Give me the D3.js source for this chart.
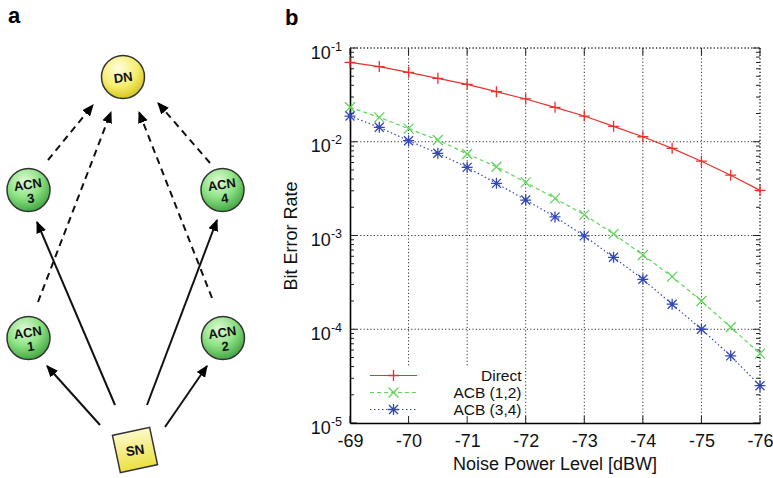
<!DOCTYPE html>
<html><head><meta charset="utf-8">
<script src="https://cdn.jsdelivr.net/npm/d3@7"></script>
<style>body{margin:0;background:#fff}svg{display:block}text{font-family:"Liberation Sans",Arial,Helvetica,sans-serif}</style>
</head><body>
<svg id="c" width="773" height="478"></svg>
<script>
// ---- data ----
const noiseLevels = [-69,-69.5,-70,-70.5,-71,-71.5,-72,-72.5,-73,-73.5,-74,-74.5,-75,-75.5,-76];
const berDirect = [0.0703,0.0633,0.055,0.0475,0.041,0.0342,0.0286,0.0233,0.0188,0.0146,0.0113,0.0085,0.0062,0.0044,0.00303];
const berACB12 = [0.0233,0.0182,0.0138,0.01045,0.0074,0.00542,0.00369,0.00249,0.00166,0.00104,0.00062,0.000364,0.0002,0.000105,0.000055];
const berACB34 = [0.0188,0.01425,0.01026,0.00753,0.00533,0.0036,0.00239,0.00158,0.00099,0.000585,0.000341,0.000185,0.0001,0.000052,0.000025];
const xTicks = [-69,-70,-71,-72,-73,-74,-75,-76];
const yDecades = [-5,-4,-3,-2,-1];
const seriesNames = ["Direct","ACB (1,2)","ACB (3,4)"];

// network diagram
const nodes = [
  {id:"DN", lines:["DN"], type:"dn"},
  {id:"ACN3", lines:["ACN","3"], type:"acn"},
  {id:"ACN4", lines:["ACN","4"], type:"acn"},
  {id:"ACN1", lines:["ACN","1"], type:"acn"},
  {id:"ACN2", lines:["ACN","2"], type:"acn"},
  {id:"SN", lines:["SN"], type:"sn"}
];
const links = [
  {from:"SN", to:"ACN1", style:"solid"},
  {from:"SN", to:"ACN3", style:"solid"},
  {from:"SN", to:"ACN4", style:"solid"},
  {from:"SN", to:"ACN2", style:"solid"},
  {from:"ACN3", to:"DN", style:"dashed"},
  {from:"ACN1", to:"DN", style:"dashed"},
  {from:"ACN2", to:"DN", style:"dashed"},
  {from:"ACN4", to:"DN", style:"dashed"}
];

const svg = d3.select("#c");
const defs = svg.append("defs");

// ---- panel a ----
const layout = {DN:[123,77], ACN3:[28.5,190], ACN4:[222.5,190], ACN1:[28.5,338], ACN2:[223,338], SN:[135,450]};
const arrowGeom = {
  "SN-ACN1":[[100,425],[47,366]],
  "SN-ACN3":[[115,405],[37,222]],
  "SN-ACN4":[[147,405],[217,220]],
  "SN-ACN2":[[165,427],[207,366]],
  "ACN3-DN":[[48,160],[93,105]],
  "ACN1-DN":[[38,302],[111,112]],
  "ACN2-DN":[[212,298],[139,112]],
  "ACN4-DN":[[210,163],[158,103]]
};
defs.append("marker").attr("id","ah").attr("viewBox","0 0 10 10").attr("refX",9).attr("refY",5)
  .attr("markerWidth",6).attr("markerHeight",6).attr("orient","auto").attr("markerUnits","strokeWidth")
  .append("path").attr("d","M0,0.8L10,5L0,9.2Z").attr("fill","#000");

const gg = defs.append("radialGradient").attr("id","gGreen").attr("cx","40%").attr("cy","30%").attr("r","70%");
gg.append("stop").attr("offset","0%").attr("stop-color","#e0fad8");
gg.append("stop").attr("offset","55%").attr("stop-color","#8ee284");
gg.append("stop").attr("offset","100%").attr("stop-color","#46a846");
const gy = defs.append("radialGradient").attr("id","gYellow").attr("cx","40%").attr("cy","30%").attr("r","70%");
gy.append("stop").attr("offset","0%").attr("stop-color","#fffde0");
gy.append("stop").attr("offset","60%").attr("stop-color","#f6ee70");
gy.append("stop").attr("offset","100%").attr("stop-color","#d8c820");
const gs = defs.append("linearGradient").attr("id","gSN").attr("x1","0").attr("y1","0").attr("x2","0").attr("y2","1");
gs.append("stop").attr("offset","0%").attr("stop-color","#fdf9c8");
gs.append("stop").attr("offset","100%").attr("stop-color","#ece040");

const ga = svg.append("g");
ga.append("text").attr("x",8).attr("y",23).attr("font-size",22).attr("font-weight","bold").text("a");

ga.selectAll("line.lk").data(links).join("line").attr("class","lk")
  .attr("x1",d=>arrowGeom[d.from+"-"+d.to][0][0]).attr("y1",d=>arrowGeom[d.from+"-"+d.to][0][1])
  .attr("x2",d=>arrowGeom[d.from+"-"+d.to][1][0]).attr("y2",d=>arrowGeom[d.from+"-"+d.to][1][1])
  .attr("stroke","#111").attr("stroke-width",2)
  .attr("stroke-dasharray",d=>d.style==="dashed"?"7,5":null)
  .attr("marker-end","url(#ah)");

const ng = ga.selectAll("g.node").data(nodes).join("g").attr("class","node")
  .attr("transform",d=>`translate(${layout[d.id][0]},${layout[d.id][1]})`);
ng.each(function(d){
  const g = d3.select(this);
  if(d.type==="sn"){
    g.append("rect").attr("x",-19).attr("y",-19).attr("width",38).attr("height",38)
      .attr("transform","rotate(-12)").attr("fill","url(#gSN)").attr("stroke","#333").attr("stroke-width",1.5);
    g.append("text").attr("transform","rotate(-8)").attr("text-anchor","middle").attr("y",5)
      .attr("font-size",13.5).attr("font-weight","bold").attr("fill","#111").text("SN");
  } else {
    g.append("circle").attr("r",21.5).attr("fill",d.type==="dn"?"url(#gYellow)":"url(#gGreen)")
      .attr("stroke","#333").attr("stroke-width",1.5);
    const t = g.append("text").attr("text-anchor","middle").attr("font-size",13).attr("font-weight","bold")
      .attr("fill","#111").attr("transform","rotate(-8)");
    if(d.lines.length===1){ t.attr("y",5).text(d.lines[0]); }
    else {
      t.append("tspan").attr("x",0).attr("y",-1).text(d.lines[0]);
      t.append("tspan").attr("x",1).attr("y",13).text(d.lines[1]);
    }
  }
});

// ---- panel b ----
const L=350, R=760, T=48, B=423;
const x = d3.scaleLinear().domain([-69,-76]).range([L,R]);
const y = d3.scaleLog().domain([1e-5,1e-1]).range([B,T]);
const gb = svg.append("g");
gb.append("text").attr("x",285).attr("y",25).attr("font-size",22).attr("font-weight","bold").text("b");

// grid
const gridStyle = s=>s.attr("stroke","#333").attr("stroke-width",1).attr("stroke-dasharray","1.2,2.2").attr("fill","none");
gb.selectAll("line.gx").data(xTicks.slice(1)).join("line").attr("class","gx")
  .attr("x1",d=>x(d)).attr("x2",d=>x(d)).attr("y1",T).attr("y2",B).call(gridStyle);
gb.selectAll("line.gy").data(yDecades.slice(1)).join("line").attr("class","gy")
  .attr("x1",L).attr("x2",R).attr("y1",d=>y(Math.pow(10,d))).attr("y2",d=>y(Math.pow(10,d))).call(gridStyle);

// legend background (covers grid)
gb.append("rect").attr("x",L+1).attr("y",367).attr("width",174).attr("height",B-367).attr("fill","#fff");

// ticks (inward), left solid, right mirrored
const minorVals=[];
yDecades.slice(0,-1).forEach(e=>{for(let m=2;m<=9;m++) minorVals.push(m*Math.pow(10,e));});
const tk = gb.append("g").attr("stroke","#222").attr("stroke-width",1);
tk.selectAll("line.ml").data(minorVals).join("line").attr("x1",L).attr("x2",L+4).attr("y1",d=>y(d)).attr("y2",d=>y(d));
tk.selectAll("line.mr").data(minorVals).join("line").attr("x1",R).attr("x2",R-4).attr("y1",d=>y(d)).attr("y2",d=>y(d));
tk.selectAll("line.Ml").data(yDecades).join("line").attr("x1",L).attr("x2",L+7).attr("y1",d=>y(Math.pow(10,d))).attr("y2",d=>y(Math.pow(10,d)));
tk.selectAll("line.Mr").data(yDecades).join("line").attr("x1",R).attr("x2",R-7).attr("y1",d=>y(Math.pow(10,d))).attr("y2",d=>y(Math.pow(10,d)));
tk.selectAll("line.xb").data(xTicks).join("line").attr("x1",d=>x(d)).attr("x2",d=>x(d)).attr("y1",B).attr("y2",B-7);
tk.selectAll("line.xt").data(xTicks).join("line").attr("x1",d=>x(d)).attr("x2",d=>x(d)).attr("y1",T).attr("y2",T+7);

// top/right borders dotted
gb.append("line").attr("x1",L).attr("x2",R).attr("y1",T).attr("y2",T).call(gridStyle);
gb.append("line").attr("x1",R).attr("x2",R).attr("y1",T).attr("y2",B).call(gridStyle);

// axes
const xAxis = d3.axisBottom(x).tickValues(xTicks).tickSize(0).tickPadding(11).tickFormat(d=>String(d));
const gxA = gb.append("g").attr("transform",`translate(0,${B})`).call(xAxis);
gxA.select(".domain").attr("stroke","#000").attr("stroke-width",1.6);
gxA.selectAll("text").attr("font-size",18).attr("fill","#111").attr("font-family","Liberation Sans, Arial, sans-serif");

const yAxis = d3.axisLeft(y).tickValues(yDecades.map(e=>Math.pow(10,e))).tickSize(0).tickFormat("");
const gyA = gb.append("g").attr("transform",`translate(${L},0)`).call(yAxis);
gyA.select(".domain").attr("stroke","#000").attr("stroke-width",1.6);
gyA.selectAll(".tick").each(function(d){
  const e = Math.round(Math.log10(d));
  const t = d3.select(this).append("text").attr("x",-8).attr("y",10).attr("text-anchor","end")
    .attr("fill","#111").attr("font-size",18);
  t.append("tspan").text("10");
  t.append("tspan").attr("dy",-8).attr("font-size",12.5).text(String(e));
});

// axis titles
gb.append("text").attr("x",(L+R)/2).attr("y",470).attr("text-anchor","middle").attr("font-size",18)
  .attr("fill","#111").text("Noise Power Level [dBW]");
gb.append("text").attr("transform","translate(297,236) rotate(-90)").attr("text-anchor","middle")
  .attr("font-size",18).attr("fill","#111").text("Bit Error Rate");

// series
const series = [
  {name:seriesNames[0], vals:berDirect, color:"#e8332c", dash:null, marker:"plus"},
  {name:seriesNames[1], vals:berACB12, color:"#62d45c", dash:"4,3", marker:"cross"},
  {name:seriesNames[2], vals:berACB34, color:"#3448b4", dash:"1.5,2.5", marker:"star"}
];
const line = d3.line().x(d=>x(d[0])).y(d=>y(d[1]));
const mk = {
  plus:"M-5.5,0H5.5M0,-5.5V5.5",
  cross:"M-5,-5L5,5M-5,5L5,-5",
  star:"M-5.5,0H5.5M0,-5.5V5.5M-4.5,-4.5L4.5,4.5M-4.5,4.5L4.5,-4.5"
};
series.forEach(s=>{
  const pts = noiseLevels.map((n,i)=>[n,s.vals[i]]);
  gb.append("path").datum(pts).attr("d",line).attr("fill","none").attr("stroke",s.color)
    .attr("stroke-width",1.2).attr("stroke-dasharray",s.dash);
  gb.selectAll(null).data(pts).join("path").attr("d",mk[s.marker])
    .attr("transform",d=>`translate(${x(d[0])},${y(d[1])})`).attr("stroke",s.color).attr("stroke-width",1.3).attr("fill","none");
});

// legend
const lg = gb.append("g");
series.forEach((s,i)=>{
  const yy = 375.5 + i*17;
  lg.append("line").attr("x1",370).attr("x2",417).attr("y1",yy).attr("y2",yy).attr("stroke",s.color)
    .attr("stroke-width",1.2).attr("stroke-dasharray",s.dash);
  lg.append("path").attr("d",mk[s.marker]).attr("transform",`translate(393.5,${yy})`).attr("stroke",s.color)
    .attr("stroke-width",1.3).attr("fill","none");
  lg.append("text").attr("x",521.5).attr("y",yy+5.5).attr("text-anchor","end").attr("font-size",15.5)
    .attr("fill","#111").text(s.name);
});
</script>
</body></html>
